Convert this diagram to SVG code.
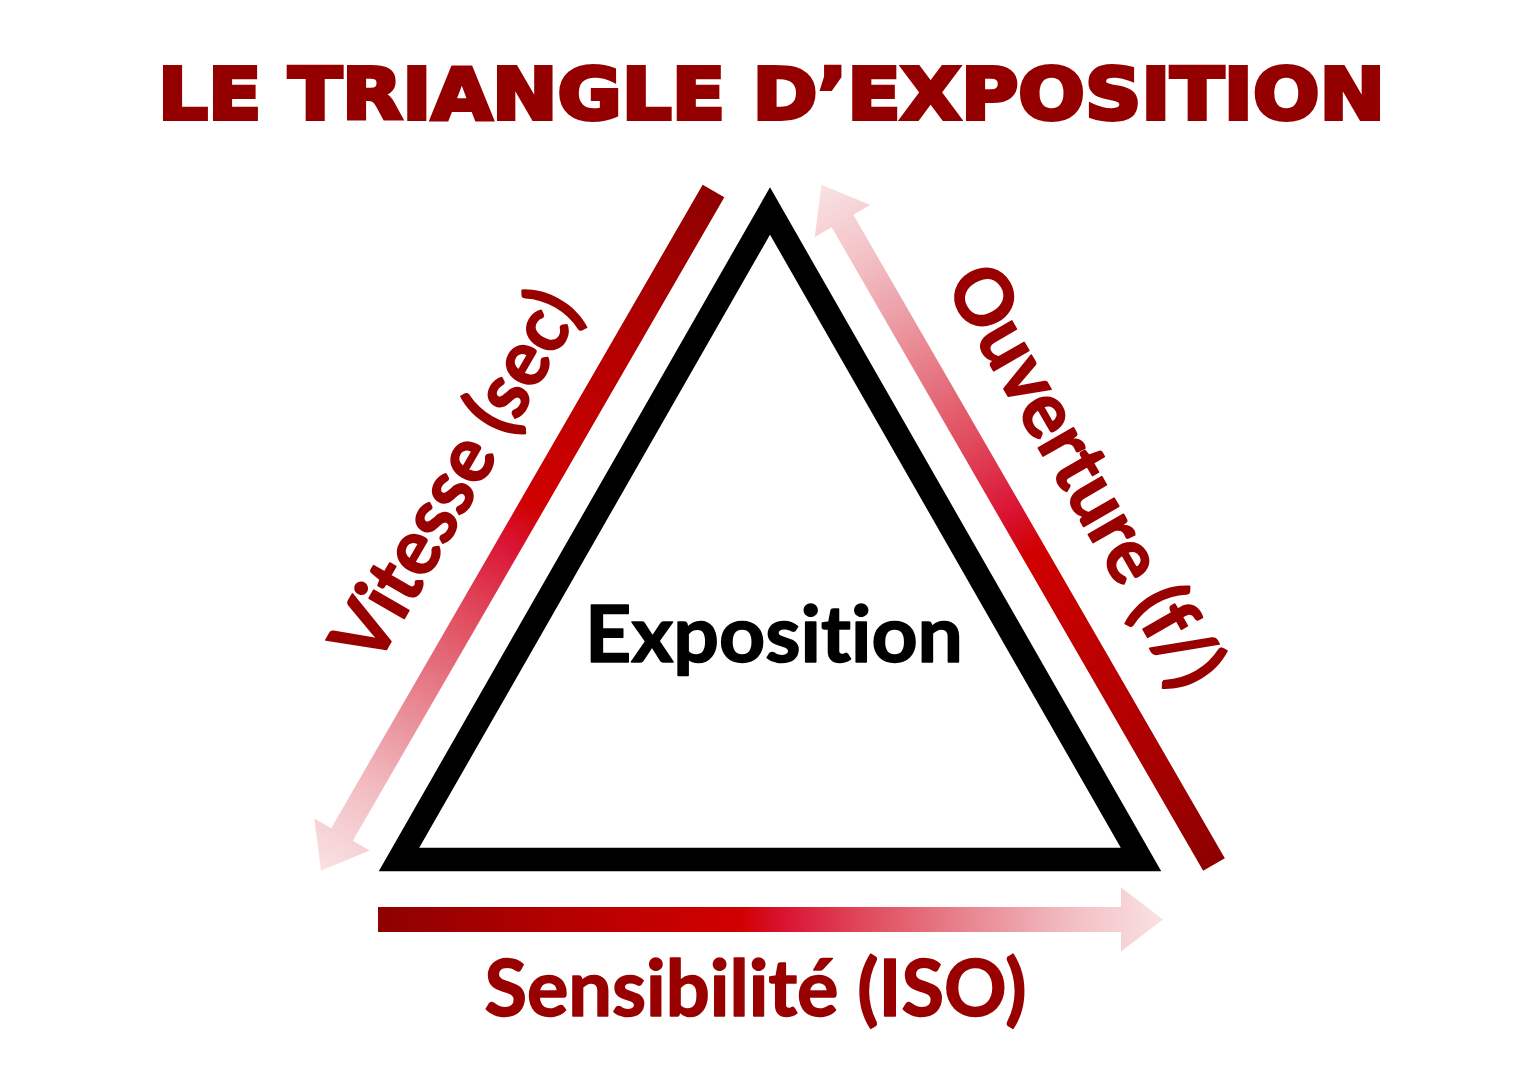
<svg xmlns="http://www.w3.org/2000/svg" width="1536" height="1086" viewBox="0 0 1536 1086">
  <defs>
    <linearGradient id="fade" gradientUnits="userSpaceOnUse" x1="0" y1="0" x2="785" y2="0">
      <stop offset="0" stop-color="#8E0000"/>
      <stop offset="0.22" stop-color="#B30000"/>
      <stop offset="0.46" stop-color="#D00000"/>
      <stop offset="0.52" stop-color="#DA1434"/>
      <stop offset="0.62" stop-color="#E04A5C"/>
      <stop offset="0.75" stop-color="#E88590"/>
      <stop offset="0.88" stop-color="#F2BDC2"/>
      <stop offset="1" stop-color="#F9E2E3"/>
    </linearGradient>
    <path id="arrowShape" d="M0,-12.5 L743,-12.5 L743,-32 L785,0 L743,32 L743,12.5 L0,12.5 Z"/>
  </defs>
  <style>
    text { font-variant-ligatures: none; font-feature-settings: "liga" 0, "clig" 0; }
    .title { font-family: "DejaVu Sans", "Liberation Sans", sans-serif; font-weight: bold; font-size: 71px; fill: #940000; stroke: #940000; stroke-width: 4px; stroke-linejoin: miter; }
    .label { font-family: Lato, "Open Sans", "Liberation Sans", sans-serif; font-weight: bold; font-size: 79px; fill: #990000; stroke: #990000; stroke-width: 1.6px; stroke-linejoin: round; }
    .center { font-family: Lato, "Open Sans", "Liberation Sans", sans-serif; font-weight: bold; font-size: 79px; fill: #000000; stroke: #000000; stroke-width: 1.6px; stroke-linejoin: round; }
    .tri { fill: none; stroke: #000000; stroke-width: 23.5px; stroke-linejoin: miter; stroke-miterlimit: 10; }
    .arrow { fill: url(#fade); }
  </style>
  <rect width="1536" height="1086" fill="#FFFFFF"/>

  <g id="title">
    <text class="title" x="158" y="119" textLength="1227" lengthAdjust="spacingAndGlyphs">LE TRIANGLE D’EXPOSITION</text>
  </g>

  <g id="node-exposition">
    <polygon class="tri" points="770,211 399,859.5 1141,859.5"/>
    <text class="center" x="774" y="662" text-anchor="middle" textLength="378" lengthAdjust="spacingAndGlyphs">Exposition</text>
  </g>

  <g id="connectors">
    <use href="#arrowShape" class="arrow" transform="translate(713.5,191) rotate(120)"/>
    <use href="#arrowShape" class="arrow" transform="translate(1214,864.5) rotate(-120)"/>
    <use href="#arrowShape" class="arrow" transform="translate(378,919.5)"/>
  </g>

  <g id="label-vitesse">
    <text class="label" transform="translate(479,489) rotate(-60)" x="0" y="0" text-anchor="middle" textLength="414" lengthAdjust="spacingAndGlyphs">Vitesse (sec)</text>
  </g>
  <g id="label-ouverture">
    <text class="label" transform="translate(1062,489) rotate(60)" x="0" y="0" text-anchor="middle" textLength="472" lengthAdjust="spacingAndGlyphs">Ouverture (f/)</text>
  </g>
  <g id="label-sensibilite">
    <text class="label" x="755.5" y="1016" text-anchor="middle" textLength="542" lengthAdjust="spacingAndGlyphs">Sensibilité (ISO)</text>
  </g>
</svg>
